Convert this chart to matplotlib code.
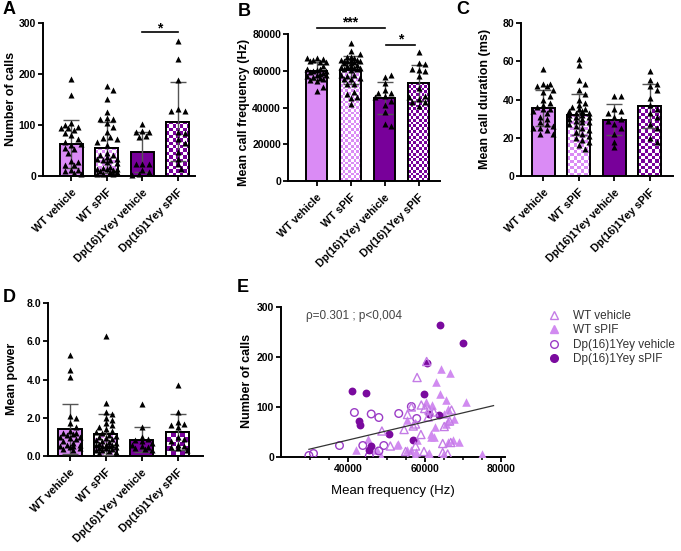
import numpy as np
import matplotlib
matplotlib.use('Agg')
import matplotlib.pyplot as plt
from matplotlib.colors import ListedColormap
from matplotlib.lines import Line2D

plt.rcParams['font.family'] = ['Liberation Sans', 'DejaVu Sans']
plt.rcParams['font.weight'] = 'bold'

groups = ['WT vehicle', 'WT sPIF', 'Dp(16)1Yey vehicle', 'Dp(16)1Yey sPIF']

# number of calls / mean frequency per animal
calls_wt_veh = [191, 159, 104, 97, 94, 94, 100, 90, 85, 80, 72, 61, 66, 62, 55, 52, 45, 29, 27, 22, 22, 11, 11, 9, 6, 4]
freq_wt_veh = [60500, 58000, 59100, 60000, 61100, 67000, 56500, 62400, 55500, 60900, 66500, 65100, 57600,
               57000, 54600, 48800, 59000, 66800, 64700, 57600, 51000, 55000, 59800, 64700, 66000, 56300]
calls_wt_spif = [176, 169, 151, 126, 114, 111, 111, 104, 97, 87, 77, 74, 73, 67, 61, 46, 41, 41, 37,
                 34, 34, 31, 31, 27, 25, 17, 15, 14, 14, 14, 11, 9, 7, 7, 4, 4, 3]
freq_wt_spif = [64200, 66700, 62900, 64000, 65500, 70800, 60300, 62000, 66000, 65100, 67700, 55400, 66000,
                65500, 62600, 61600, 61600, 62400, 45100, 57900, 67300, 66000, 69000, 53000, 52800, 45800,
                55300, 42100, 47500, 56300, 57600, 61100, 60800, 75000, 64900, 57400, 48600]
calls_dp_veh = [101, 89, 87, 86, 79, 77, 23, 23, 23, 12, 7, 3, 2]
freq_dp_veh = [56500, 41600, 53200, 46000, 48000, 57900, 37700, 43800, 49300, 48000, 30900, 29700, 45500]
calls_dp_spif = [265, 229, 188, 132, 128, 127, 86, 84, 72, 65, 47, 34, 23, 14]
freq_dp_spif = [64000, 70000, 60500, 41000, 44700, 59700, 61100, 63800, 42800, 43000, 50600, 56900, 46000, 45500]

# mean call duration (ms)
dur_wt_veh = [56, 48, 48, 47, 47, 45, 44, 42, 40, 38, 37, 36, 35, 35, 34, 33, 31, 30, 28, 27, 26, 25, 25, 24, 22, 22]
dur_wt_spif = [61, 58, 50, 48, 45, 43, 40, 38, 37, 36, 35, 35, 34, 34, 33, 33, 32, 32, 31, 31, 30, 30, 29,
               28, 28, 27, 26, 25, 24, 23, 22, 21, 20, 19, 18, 16, 14]
dur_dp_veh = [42, 42, 35, 34, 33, 31, 30, 29, 27, 25, 22, 18, 15]
dur_dp_spif = [55, 50, 48, 47, 45, 41, 37, 35, 33, 31, 27, 25, 20, 18]

# mean power
pow_wt_veh = [5.3, 4.5, 4.15, 2.1, 2.0, 1.7, 1.5, 1.3, 1.2, 1.2, 1.15, 1.1, 1.0, 1.0, 0.95, 0.9, 0.8, 0.7,
              0.6, 0.55, 0.5, 0.5, 0.45, 0.4, 0.35, 0.3]
pow_wt_spif = [6.3, 2.75, 2.3, 2.2, 2.0, 1.9, 1.7, 1.6, 1.5, 1.4, 1.3, 1.25, 1.2, 1.1, 1.05, 1.0, 0.95, 0.9,
               0.85, 0.8, 0.75, 0.7, 0.65, 0.6, 0.6, 0.55, 0.5, 0.5, 0.45, 0.4, 0.4, 0.35, 0.3, 0.3, 0.25, 0.2, 0.15]
pow_dp_veh = [2.7, 1.5, 1.0, 0.9, 0.85, 0.8, 0.7, 0.6, 0.5, 0.45, 0.4, 0.35, 0.3]
pow_dp_spif = [3.7, 2.3, 1.8, 1.65, 1.6, 1.5, 1.0, 0.9, 0.8, 0.6, 0.5, 0.45, 0.4, 0.3]

yticks_calls = [0, 100, 200, 300]
yticks_freq = [0, 20000, 40000, 60000, 80000]
yticks_dur = [0, 20, 40, 60, 80]
yticks_pow = [0.0, 2.0, 4.0, 6.0, 8.0]
xticks_scatter = [40000, 60000, 80000]

c_wt = '#DA8BF5'
c_dp = '#78009A'

W, H = 681, 551
fig = plt.figure(figsize=(W / 100, H / 100), dpi=100)


def add_ax(left, right, top, bottom):
    return fig.add_axes([left / W, 1 - bottom / H, (right - left) / W, (bottom - top) / H])


def style(ax):
    for s in ['top', 'right']:
        ax.spines[s].set_visible(False)
    for s in ['left', 'bottom']:
        ax.spines[s].set_linewidth(1.4)
    ax.tick_params(width=1.3, length=3.5, labelsize=7.5, pad=1.5)


def checker(ax, bar, color, cell):
    x0, w, h = bar.get_x(), bar.get_width(), bar.get_height()
    p0 = ax.transData.transform((x0, 0))
    p1 = ax.transData.transform((x0 + w, h))
    nx = max(1, int(round((p1[0] - p0[0]) / cell)))
    ny = max(1, int(round((p1[1] - p0[1]) / cell)))
    grid = np.add.outer(np.arange(ny), np.arange(nx)) % 2
    im = ax.imshow(grid, extent=(x0, x0 + w, 0, h), cmap=ListedColormap(['white', color]),
                   aspect='auto', interpolation='nearest', zorder=2.1)
    im.set_clip_path(bar)


def swarm(ax, vals, center, size_px=5.5, max_px=13.0):
    y = ax.transData.transform(np.column_stack([np.full(len(vals), center), vals]))[:, 1]
    ppu = ax.transData.transform((1, 0))[0] - ax.transData.transform((0, 0))[0]
    step = size_px * 0.6
    cands = [0.0]
    k = 1
    while k * step <= max_px:
        cands += [k * step, -k * step]
        k += 1
    placed, offs = [], []
    for yi in y:
        best, best_d = 0.0, -1
        for c in cands:
            d = min([np.hypot(c - px, yi - py) for px, py in placed], default=1e9)
            if d >= size_px:
                best = c
                break
            if d > best_d:
                best, best_d = c, d
        placed.append((best, yi))
        offs.append(best / ppu)
    return np.array(offs)


def bar_panel(ax, data, ylim, yticks, ylabels, xlim, width, cell):
    style(ax)
    ax.set_xlim(xlim)
    ax.set_ylim(ylim)
    x = np.arange(4)
    means = [np.mean(d) for d in data]
    sds = [np.std(d, ddof=1) for d in data]
    bars = ax.bar(x, means, width, color=[c_wt, 'white', c_dp, 'white'], edgecolor='black', lw=1.4, zorder=2)
    for i, col in [(1, c_wt), (3, c_dp)]:
        checker(ax, bars[i], col, cell)
        ax.bar(x[i], means[i], width, fill=False, edgecolor='black', lw=1.4, zorder=2.3)
    ax.errorbar(x, means, yerr=sds, fmt='none', ecolor='#555555', elinewidth=1, capsize=6,
                capthick=1, zorder=2.6)
    for i, d in enumerate(data):
        offs = swarm(ax, d, i)
        ax.scatter(i + offs, d, marker='^', s=19, color='black', linewidths=0, zorder=3, clip_on=False)
    ax.set_xlim(xlim)
    ax.set_ylim(ylim)
    ax.set_yticks(yticks)
    ax.set_yticklabels(ylabels)
    ax.set_xticks(x)
    ax.set_xticklabels(groups, rotation=45, ha='right', va='top', rotation_mode='anchor', fontsize=7.8)
    ax.tick_params(axis='x', pad=4.5)


# A
axA = add_ax(43, 195, 23, 176)
bar_panel(axA, [calls_wt_veh, calls_wt_spif, calls_dp_veh, calls_dp_spif], (0, 300), yticks_calls,
          [str(v) for v in yticks_calls], (-0.79, 3.48), 0.65, 3.3)
axA.plot([2, 3], [282, 282], color='black', lw=1.2, clip_on=False)
axA.text(2.5, 290, '*', ha='center', va='center', fontsize=10)
fig.text(11 / W, 1 - 99 / H, 'Number of calls', rotation=90, ha='center', va='center', fontsize=9)

# B
axB = add_ax(288, 440, 34, 181)
bar_panel(axB, [freq_wt_veh, freq_wt_spif, freq_dp_veh, freq_dp_spif], (0, 80000), yticks_freq,
          [str(v) for v in yticks_freq], (-0.84, 3.63), 0.63, 2.8)
axB.plot([0, 2], [83300, 83300], color='black', lw=1.2, clip_on=False)
axB.text(1, 86500, '***', ha='center', va='center', fontsize=10)
axB.plot([2.03, 2.9], [74000, 74000], color='black', lw=1.2, clip_on=False)
axB.text(2.47, 77000, '*', ha='center', va='center', fontsize=10)
fig.text(244 / W, 1 - 112 / H, 'Mean call frequency (Hz)', rotation=90, ha='center', va='center', fontsize=9)

# C
axC = add_ax(521, 673, 23, 176)
bar_panel(axC, [dur_wt_veh, dur_wt_spif, dur_dp_veh, dur_dp_spif], (0, 80), yticks_dur,
          [str(v) for v in yticks_dur], (-0.63, 3.65), 0.65, 3.3)
fig.text(485 / W, 1 - 99 / H, 'Mean call duration (ms)', rotation=90, ha='center', va='center', fontsize=9)

# D
axD = add_ax(48, 203, 303, 456)
bar_panel(axD, [pow_wt_veh, pow_wt_spif, pow_dp_veh, pow_dp_spif], (0, 8), yticks_pow,
          [f'{v:.1f}' for v in yticks_pow], (-0.61, 3.71), 0.65, 4.5)
fig.text(12 / W, 1 - 379 / H, 'Mean power', rotation=90, ha='center', va='center', fontsize=9)

# E
axE = add_ax(281, 505, 307, 457)
style(axE)
axE.scatter(freq_wt_spif, calls_wt_spif, marker='^', s=38, color='#D18BF0', linewidths=0, zorder=3)
axE.scatter(freq_dp_veh, calls_dp_veh, marker='o', s=30, facecolors='none', edgecolors='#9B3CC6',
            linewidths=1, zorder=3)
axE.scatter(freq_dp_spif, calls_dp_spif, marker='o', s=32, color='#7A0A9E', linewidths=0, zorder=3)
axE.scatter(freq_wt_veh, calls_wt_veh, marker='^', s=34, facecolors='none', edgecolors='#C47CE6',
            linewidths=1, zorder=3.2)
all_f = np.array(freq_wt_veh + freq_wt_spif + freq_dp_veh + freq_dp_spif)
all_c = np.array(calls_wt_veh + calls_wt_spif + calls_dp_veh + calls_dp_spif)
coef = np.polyfit(all_f, all_c, 1)
xs = np.array([all_f.min(), 78000])
axE.plot(xs, np.polyval(coef, xs), color='#333333', lw=0.9, zorder=4)
axE.set_xlim(22400, 81000)
axE.set_ylim(0, 300)
axE.set_xticks(xticks_scatter)
axE.set_xticks(np.arange(30000, 80001, 5000), minor=True)
axE.tick_params(which='minor', length=2.5, width=1.1)
axE.set_yticks(yticks_calls)
axE.set_xlabel('Mean frequency (Hz)', fontsize=9.5, labelpad=8)
fig.text(247 / W, 1 - 381 / H, 'Number of calls', rotation=90, ha='center', va='center', fontsize=9)
axE.text(0.11, 0.94, 'ρ=0.301 ; p<0,004', transform=axE.transAxes, fontsize=8.5, fontweight='normal',
         color='#444444', va='center')

handles = [
    Line2D([], [], ls='none', marker='^', ms=6, mfc='none', mec='#C47CE6', mew=1),
    Line2D([], [], ls='none', marker='^', ms=6, mfc='#D18BF0', mec='#D18BF0'),
    Line2D([], [], ls='none', marker='o', ms=5.5, mfc='none', mec='#9B3CC6', mew=1),
    Line2D([], [], ls='none', marker='o', ms=5.5, mfc='#7A0A9E', mec='#7A0A9E'),
]
leg = fig.legend(handles, groups, loc='upper left', bbox_to_anchor=(548 / W, 1 - 310 / H), frameon=False,
                 prop={'size': 8.5, 'weight': 'normal'}, handlelength=1.0, handletextpad=1.1,
                 labelspacing=0.2, borderpad=0, borderaxespad=0)
for t in leg.get_texts():
    t.set_color('#333333')

# panel letters
for letter, px, py in [('A', 3, 10), ('B', 238, 11), ('C', 456, 10), ('D', 3, 297), ('E', 237, 287)]:
    fig.text(px / W, 1 - py / H, letter, fontsize=13, ha='left', va='center')

fig.savefig('out.png', dpi=100)
